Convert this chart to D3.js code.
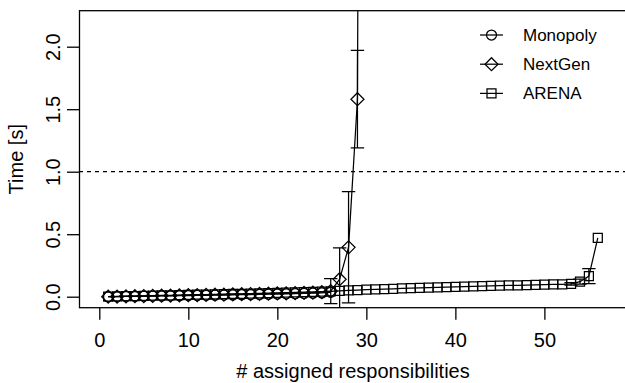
<!DOCTYPE html>
<html>
<head>
<meta charset="utf-8">
<script src="https://cdn.jsdelivr.net/npm/d3@7"></script>
<style>
  body { margin: 0; background: #fff; }
  text { font-family: "Liberation Sans", Arial, Helvetica, sans-serif; fill: #000; }
</style>
</head>
<body>
<div id="container"></div>
<script>
// data
let seriesNames = ['Monopoly', 'NextGen', 'ARENA'];
let monopolyX = d3.range(1, 27);
let monopolyY = [0.000, 0.001, 0.002, 0.003, 0.004, 0.005, 0.006, 0.007, 0.008, 0.009,
    0.010, 0.011, 0.012, 0.013, 0.014, 0.016, 0.017, 0.018, 0.020, 0.021,
    0.023, 0.024, 0.026, 0.028, 0.030, 0.035];
let monopolyErr = [0, 0, 0, 0, 0, 0, 0, 0, 0, 0, 0, 0, 0, 0, 0, 0, 0, 0, 0, 0, 0, 0, 0, 0, 0, 0];
let nextGenX = d3.range(1, 31);
let nextGenY = [0.000, 0.001, 0.003, 0.004, 0.005, 0.007, 0.008, 0.009, 0.011, 0.012,
    0.013, 0.015, 0.016, 0.017, 0.019, 0.020, 0.021, 0.023, 0.024, 0.026,
    0.027, 0.029, 0.031, 0.033, 0.036, 0.045, 0.14, 0.395, 1.58, 20];
let nextGenErr = [0, 0, 0, 0, 0, 0, 0, 0, 0, 0, 0, 0, 0, 0, 0, 0, 0, 0, 0, 0,
    0, 0, 0, 0, 0, 0.1, 0.25, 0.445, 0.39, 0];
let arenaX = d3.range(1, 57);
let arenaY = [0.000, 0.002, 0.004, 0.005, 0.007, 0.008, 0.010, 0.011, 0.013, 0.014,
    0.016, 0.017, 0.019, 0.020, 0.022, 0.023, 0.025, 0.027, 0.028, 0.030,
    0.032, 0.034, 0.036, 0.038, 0.040, 0.043, 0.047, 0.050, 0.053, 0.057,
    0.059, 0.061, 0.063, 0.066, 0.068, 0.070, 0.072, 0.074, 0.076, 0.079,
    0.081, 0.083, 0.085, 0.087, 0.088, 0.090, 0.091, 0.093, 0.095, 0.097,
    0.098, 0.099, 0.102, 0.12, 0.165, 0.47];
let arenaErr = [0, 0, 0, 0, 0, 0, 0, 0, 0, 0, 0, 0, 0, 0, 0, 0, 0, 0, 0, 0,
    0, 0, 0, 0, 0, 0, 0, 0, 0, 0, 0, 0, 0, 0, 0, 0, 0, 0, 0, 0,
    0, 0, 0, 0, 0, 0, 0, 0, 0, 0, 0, 0, 0.01, 0.02, 0.06, 0];
let xTicks = [0, 10, 20, 30, 40, 50];
let yTicks = [0.0, 0.5, 1.0, 1.5, 2.0];
let yTickLabels = ['0.0', '0.5', '1.0', '1.5', '2.0'];
let threshold = 1.0;
let xTitle = '# assigned responsibilities';
let yTitle = 'Time [s]';

let width = 625;
let height = 383;
let plotLeft = 79, plotRight = 627, plotTop = 10.7, plotBottom = 307.7;
let tickLen = 12;
let lw = 1.25;

let series = [
    { name: seriesNames[0], shape: 'circle', xs: monopolyX, ys: monopolyY, err: monopolyErr },
    { name: seriesNames[1], shape: 'diamond', xs: nextGenX, ys: nextGenY, err: nextGenErr },
    { name: seriesNames[2], shape: 'square', xs: arenaX, ys: arenaY, err: arenaErr }
];

let svg = d3.select('#container').append('svg')
    .attr('width', width).attr('height', height);

// R style: data range extended by 4%
let xScale = d3.scaleLinear().domain([-2.28, 59.28]).range([plotLeft, plotRight]);
let yScale = d3.scaleLinear().domain([-0.088, 2.288]).range([plotBottom, plotTop]);

svg.append('clipPath').attr('id', 'plotClip')
    .append('rect')
    .attr('x', plotLeft).attr('y', plotTop)
    .attr('width', plotRight - plotLeft).attr('height', plotBottom - plotTop);

function markerPath(shape, cx, cy) {
    if (shape === 'circle') {
        let r = 5;
        return 'M' + (cx - r) + ',' + cy + 'a' + r + ',' + r + ' 0 1,0 ' + 2 * r + ',0a' + r + ',' + r + ' 0 1,0 ' + (-2 * r) + ',0Z';
    }
    if (shape === 'diamond') {
        let d = 6.5;
        return 'M' + cx + ',' + (cy - d) + 'L' + (cx + d) + ',' + cy + 'L' + cx + ',' + (cy + d) + 'L' + (cx - d) + ',' + cy + 'Z';
    }
    let s = 4.5;
    return 'M' + (cx - s) + ',' + (cy - s) + 'h' + 2 * s + 'v' + 2 * s + 'h' + (-2 * s) + 'Z';
}

// threshold line
svg.append('line')
    .attr('x1', plotLeft).attr('x2', plotRight)
    .attr('y1', yScale(threshold)).attr('y2', yScale(threshold))
    .attr('stroke', '#000').attr('stroke-width', lw)
    .attr('stroke-dasharray', '4,4');

let dataLayer = svg.append('g').attr('clip-path', 'url(#plotClip)');

series.forEach(s => {
    let pts = s.xs.map((xv, i) => ({ x: xv, y: s.ys[i], e: s.err[i] }));
    let g = dataLayer.append('g').attr('class', 'series');

    let line = d3.line().x(d => xScale(d.x)).y(d => yScale(d.y));
    g.append('path').datum(pts)
        .attr('d', line)
        .attr('fill', 'none').attr('stroke', '#000').attr('stroke-width', lw);

    let bars = g.selectAll('.err').data(pts.filter(d => d.e > 0)).enter()
        .append('g').attr('class', 'err');
    bars.append('line')
        .attr('x1', d => xScale(d.x)).attr('x2', d => xScale(d.x))
        .attr('y1', d => yScale(d.y - d.e)).attr('y2', d => yScale(d.y + d.e))
        .attr('stroke', '#000').attr('stroke-width', lw);
    [-1, 1].forEach(sign => {
        bars.append('line')
            .attr('x1', d => xScale(d.x) - 6.7).attr('x2', d => xScale(d.x) + 6.7)
            .attr('y1', d => yScale(d.y + sign * d.e)).attr('y2', d => yScale(d.y + sign * d.e))
            .attr('stroke', '#000').attr('stroke-width', lw);
    });

    g.selectAll('.mark').data(pts).enter()
        .append('path').attr('class', 'mark')
        .attr('d', d => markerPath(s.shape, xScale(d.x), yScale(d.y)))
        .attr('fill', 'none').attr('stroke', '#000').attr('stroke-width', lw);
});

// box
svg.append('rect')
    .attr('x', plotLeft + 0.5).attr('y', plotTop)
    .attr('width', plotRight - plotLeft).attr('height', plotBottom - plotTop)
    .attr('fill', 'none').attr('stroke', '#000').attr('stroke-width', 1.3);

// axes
let xAxis = svg.append('g')
    .attr('transform', 'translate(0,' + plotBottom + ')')
    .call(d3.axisBottom(xScale).tickValues(xTicks).tickSize(tickLen).tickFormat(d3.format('d')));
xAxis.select('.domain').remove();
xAxis.selectAll('.tick line').attr('stroke', '#000').attr('stroke-width', 1.3);
xAxis.selectAll('.tick text')
    .attr('y', 39).attr('dy', 0)
    .style('font-size', '20px');

let yAxis = svg.append('g')
    .attr('transform', 'translate(' + plotLeft + ',0)')
    .call(d3.axisLeft(yScale).tickValues(yTicks).tickSize(tickLen).tickFormat((d, i) => yTickLabels[i]));
yAxis.select('.domain').remove();
yAxis.selectAll('.tick line').attr('stroke', '#000').attr('stroke-width', 1.3);
yAxis.selectAll('.tick text')
    .attr('x', 0).attr('dy', 0)
    .attr('transform', 'translate(-19,0) rotate(-90)')
    .attr('text-anchor', 'middle')
    .style('font-size', '20px');

svg.append('text')
    .attr('x', 353).attr('y', 378)
    .attr('text-anchor', 'middle')
    .style('font-size', '20px')
    .text(xTitle);

svg.append('text')
    .attr('transform', 'translate(23,' + (plotTop + plotBottom) / 2 + ') rotate(-90)')
    .attr('text-anchor', 'middle')
    .style('font-size', '20px')
    .text(yTitle);

// legend
let legend = svg.append('g').attr('class', 'legend');
let legendRows = legend.selectAll('.row').data(series).enter()
    .append('g').attr('class', 'row')
    .attr('transform', (d, i) => 'translate(0,' + (35 + i * 29.2) + ')');
legendRows.append('line')
    .attr('x1', 480).attr('x2', 503).attr('y1', 0).attr('y2', 0)
    .attr('stroke', '#000').attr('stroke-width', lw);
legendRows.append('path')
    .attr('d', d => markerPath(d.shape, 491.5, 0))
    .attr('fill', 'none').attr('stroke', '#000').attr('stroke-width', lw);
legendRows.append('text')
    .attr('x', 523).attr('y', 0).attr('dy', '0.35em')
    .style('font-size', '17px')
    .text(d => d.name);
</script>
</body>
</html>
